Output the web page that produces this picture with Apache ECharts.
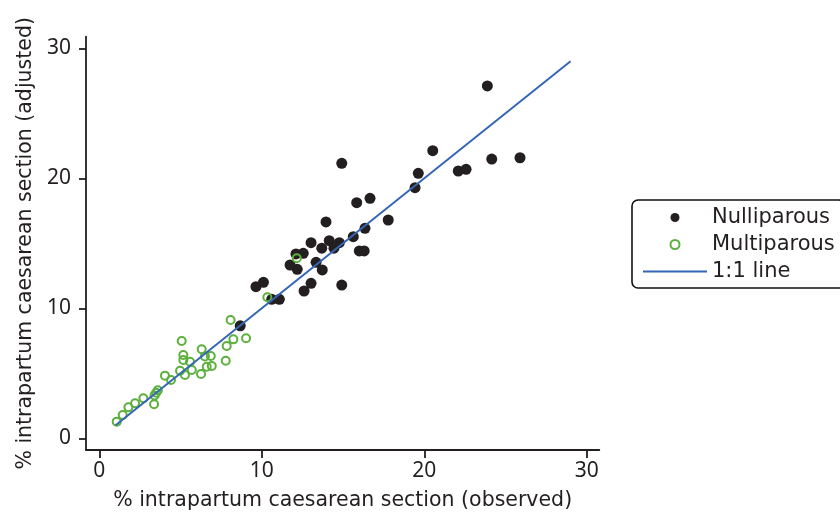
<!DOCTYPE html>
<html>
<head>
<meta charset="utf-8">
<script src="https://cdn.jsdelivr.net/npm/echarts@6/dist/echarts.min.js"></script>
<style>html,body{margin:0;padding:0;background:#fff}#c{width:840px;height:518px}</style>
</head>
<body>
<div id="c"></div>
<script>
// Nulliparous (observed %, adjusted %)
var nulliX = [8.67, 9.64, 10.1, 10.61, 11.08, 11.74, 12.18, 12.1, 12.55, 12.6, 13.03, 13.03, 13.34, 13.69, 13.72, 13.95, 14.15, 14.44, 14.77, 14.92, 14.92, 15.63, 15.84, 16.0, 16.3, 16.35, 16.66, 17.78, 19.43, 19.63, 20.52, 22.09, 22.57, 23.88, 24.15, 25.89];
var nulliY = [8.65, 11.66, 12.0, 10.69, 10.69, 13.33, 13.0, 14.18, 14.23, 11.33, 11.92, 15.05, 13.54, 14.62, 12.95, 16.64, 15.2, 14.62, 15.05, 11.79, 21.15, 15.51, 18.12, 14.41, 14.41, 16.15, 18.46, 16.79, 19.28, 20.38, 22.12, 20.56, 20.69, 27.1, 21.48, 21.58];
// Multiparous (observed %, adjusted %)
var multiX = [1.07, 1.44, 1.79, 2.2, 2.71, 3.37, 3.4, 3.5, 3.6, 4.04, 4.41, 5.07, 5.17, 5.17, 4.97, 5.27, 5.58, 5.69, 6.3, 6.26, 6.61, 6.86, 6.92, 6.5, 7.78, 7.84, 8.25, 9.03, 8.08, 10.34, 12.15];
var multiY = [1.28, 1.79, 2.38, 2.69, 3.08, 2.62, 3.3, 3.5, 3.7, 4.82, 4.48, 7.48, 6.41, 6.02, 5.2, 4.87, 5.89, 5.25, 6.85, 4.95, 5.51, 6.33, 5.56, 6.3, 5.97, 7.1, 7.61, 7.69, 9.1, 10.85, 13.85];
// 1:1 reference line
var lineX = [1, 29];
var lineY = [1, 29];
var tickValues = [0, 10, 20, 30];
var seriesNames = ['Nulliparous', 'Multiparous', '1:1 line'];
var xTitle = '% intrapartum caesarean section (observed)';
var yTitle = '% intrapartum caesarean section (adjusted)';

function pairs(xs, ys) { return xs.map(function (x, i) { return [x, ys[i]]; }); }

var FONT = 'DejaVu Sans';
var TICKFONT = 'Noto Sans';
var TXT = '#231f20';
var GREEN = '#5cb03c';
var BLUE = '#3566b5';

var chart = echarts.init(document.getElementById('c'), null, { renderer: 'canvas' });
chart.setOption({
  animation: false,
  backgroundColor: '#fff',
  textStyle: { fontFamily: FONT, color: TXT },
  grid: { left: 86, right: 240.7, top: 36.7, bottom: 68, containLabel: false },
  xAxis: {
    type: 'value', min: -0.82, max: 30.77,
    name: xTitle, nameLocation: 'middle', nameGap: 40,
    nameTextStyle: { fontSize: 20.5, color: TXT, fontFamily: FONT },
    splitLine: { show: false },
    axisLine: { show: true, onZero: false, lineStyle: { color: TXT, width: 1.8 } },
    axisTick: { show: true, length: 8, lineStyle: { color: TXT, width: 1.8 }, customValues: tickValues },
    axisLabel: { fontSize: 21, color: TXT, margin: 11, customValues: tickValues, fontFamily: TICKFONT }
  },
  yAxis: {
    type: 'value', min: -0.9, max: 30.89,
    name: yTitle, nameLocation: 'middle', nameGap: 26, nameRotate: 90,
    nameTextStyle: { fontSize: 20.5, color: TXT, fontFamily: FONT },
    splitLine: { show: false },
    axisLine: { show: true, onZero: false, lineStyle: { color: TXT, width: 1.8 } },
    axisTick: { show: true, length: 7, lineStyle: { color: TXT, width: 1.8 }, customValues: tickValues },
    axisLabel: { fontSize: 21, color: TXT, margin: 15, customValues: tickValues, fontFamily: TICKFONT }
  },
  legend: {
    orient: 'vertical', left: 632, top: 200,
    padding: [7, 10, 6, 10],
    borderColor: '#111', borderWidth: 1.6, borderRadius: 6,
    itemWidth: 64, itemHeight: 9, itemGap: 6,
    textStyle: { fontSize: 21, color: TXT, fontFamily: FONT, lineHeight: 21 },
    data: [
      { name: seriesNames[0], icon: 'circle', itemStyle: { color: TXT } },
      { name: seriesNames[1], icon: 'circle', itemStyle: { color: 'rgba(0,0,0,0)', borderColor: GREEN, borderWidth: 2 } },
      { name: seriesNames[2], itemStyle: { opacity: 0 }, lineStyle: { color: BLUE, width: 2, opacity: 1 } }
    ]
  },
  series: [
    {
      name: seriesNames[0], type: 'scatter', symbol: 'circle', symbolSize: 11,
      itemStyle: { color: TXT, opacity: 1 },
      data: pairs(nulliX, nulliY), z: 2
    },
    {
      name: seriesNames[1], type: 'scatter', symbol: 'circle', symbolSize: 8,
      itemStyle: { color: 'rgba(0,0,0,0)', borderColor: GREEN, borderWidth: 2, opacity: 1 },
      data: pairs(multiX, multiY), z: 3
    },
    {
      name: seriesNames[2], type: 'line', showSymbol: false, symbol: 'none',
      lineStyle: { color: BLUE, width: 2 }, itemStyle: { color: BLUE },
      data: pairs(lineX, lineY), z: 4
    }
  ]
});
</script>
</body>
</html>
